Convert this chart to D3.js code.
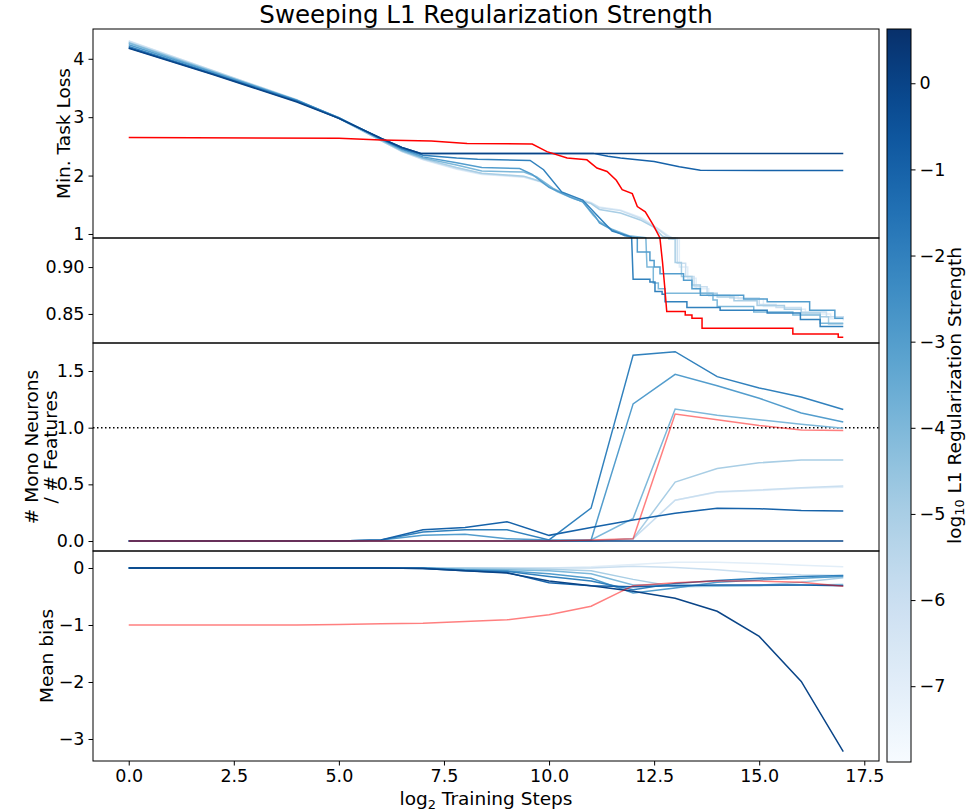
<!DOCTYPE html>
<html lang="en">
<head>
<meta charset="UTF-8">
<title>Sweeping L1 Regularization Strength</title>
<style>
  body { margin: 0; background: #fff; }
  #chart svg { display: block; }
  text { font-family: "DejaVu Sans", sans-serif; fill: #000; }
</style>
</head>
<body>
<div id="chart"></div>
<script src="https://d3js.org/d3.v7.min.js"></script>
<script>
// ---- data ----
const log10L1 = [0, -1, -2, -3, -4, -5, -6, -7];
const steps = [0, 1, 2, 3, 4, 5, 6, 7, 8, 9, 10, 11, 12, 13, 14, 15, 16, 17];

const lossTicks = [1, 2, 3, 4];
const lossZoomTicks = [0.85, 0.90];
const monoTicks = [0.0, 0.5, 1.0, 1.5];
const biasTicks = [-3, -2, -1, 0];
const stepTicks = [0, 2.5, 5, 7.5, 10, 12.5, 15, 17.5];
const cbarTicks = [-7, -6, -5, -4, -3, -2, -1, 0];

// min task loss, [log2 step, loss]
const lossL0 = [[0,4.18],[2,3.73],[4,3.26],[5,2.98],[6,2.64],[6.5,2.48],[6.95,2.38],[17,2.38]];
const lossL1 = [[0,4.19],[2,3.74],[4,3.27],[5,2.98],[6,2.64],[6.5,2.48],[6.95,2.38],[11.05,2.38],[11.4,2.33],[11.7,2.30],[12.1,2.27],[12.5,2.24],[13.1,2.15],[13.6,2.09],[17,2.085]];
const lossL2 = [[0,4.21],[2,3.75],[4,3.28],[5,2.99],[6,2.63],[6.5,2.46],[7,2.35],[7.8,2.30],[8.3,2.28],[9.55,2.26],[9.87,2.10],[10.3,1.72],[10.8,1.58],[11.13,1.33],[11.5,1.05],[11.95,0.95],[12.0,0.887],[12.4,0.884],[12.52,0.874],[12.69,0.871],[12.76,0.863],[13.28,0.857],[14.07,0.854],[15.19,0.851],[15.98,0.844],[16.45,0.8365],[17,0.8365]];
const lossL3 = [[0,4.24],[2,3.77],[4,3.29],[5,2.99],[6,2.62],[6.5,2.45],[7,2.32],[7.8,2.22],[8.4,2.14],[9.3,2.12],[9.6,2.02],[10.0,1.80],[10.5,1.63],[10.8,1.55],[11.1,1.30],[11.2,1.19],[11.5,1.07],[11.8,0.97],[12.1,0.93],[12.1,0.916],[12.4,0.907],[12.5,0.900],[12.64,0.893],[13.2,0.886],[13.4,0.877],[13.6,0.870],[14.63,0.866],[15.19,0.863],[16.2,0.854],[16.8,0.8455],[17,0.8455]];
const lossL4 = [[0,4.27],[2,3.78],[4,3.29],[5,2.98],[6,2.61],[6.5,2.43],[7,2.30],[7.8,2.18],[8.4,2.08],[9.4,2.06],[9.7,1.98],[10.1,1.78],[10.5,1.64],[10.8,1.55],[11.05,1.32],[11.2,1.21],[11.5,1.08],[11.9,0.97],[12.3,0.935],[12.33,0.900],[12.48,0.883],[12.6,0.877],[12.76,0.872],[13.9,0.865],[14.0,0.858],[14.87,0.852],[15.8,0.849],[16.45,0.840],[17,0.840]];
const lossL5 = [[0,4.28],[2,3.79],[4,3.29],[5,2.98],[6,2.60],[6.5,2.42],[7,2.29],[7.8,2.14],[8.4,2.04],[9.4,1.99],[9.8,1.90],[10.2,1.72],[10.6,1.60],[11.0,1.52],[11.2,1.42],[11.7,1.36],[12.17,1.24],[12.48,1.12],[12.7,0.96],[12.85,0.93],[13.0,0.905],[13.15,0.890],[13.4,0.881],[13.6,0.872],[14.0,0.868],[14.4,0.864],[14.95,0.859],[15.6,0.855],[16.0,0.851],[16.45,0.847],[16.65,0.8394],[17,0.8394]];
const lossL6 = [[0,4.30],[2,3.80],[4,3.30],[5,2.98],[6,2.60],[6.5,2.41],[7,2.28],[7.8,2.12],[8.4,2.03],[9.4,1.98],[9.8,1.90],[10.2,1.73],[10.6,1.62],[11.0,1.53],[11.2,1.45],[11.7,1.40],[12.17,1.27],[12.56,1.10],[12.8,0.97],[12.93,0.93],[13.05,0.904],[13.25,0.890],[13.45,0.879],[13.76,0.870],[14.3,0.867],[15.0,0.860],[15.4,0.857],[16.0,0.852],[16.6,0.847],[17,0.844]];
const lossL7 = [[0,4.31],[2,3.80],[4,3.30],[5,2.98],[6,2.60],[6.5,2.41],[7,2.27],[7.8,2.11],[8.4,2.02],[9.4,1.97],[9.8,1.89],[10.2,1.72],[10.6,1.62],[11.0,1.54],[11.2,1.46],[11.7,1.41],[12.2,1.28],[12.6,1.09],[12.84,0.97],[12.95,0.93],[13.1,0.900],[13.3,0.888],[13.5,0.877],[13.8,0.869],[14.5,0.866],[15.1,0.858],[15.6,0.855],[16.1,0.850],[16.7,0.845],[17,0.843]];
const lossNoL1 = [[0,2.65],[5,2.64],[6,2.61],[7.2,2.59],[8.05,2.55],[9.6,2.54],[9.95,2.41],[10.43,2.30],[10.9,2.27],[11.14,2.13],[11.38,2.07],[11.6,1.92],[11.74,1.76],[11.98,1.69],[12.1,1.47],[12.29,1.38],[12.48,1.15],[12.64,0.93],[12.7,0.905],[12.75,0.88],[12.8,0.8525],[13.24,0.849],[13.4,0.8455],[13.64,0.8348],[15.8,0.8287],[16.88,0.8252],[17,0.8252]];
// x from which each loss run is a staircase (in the zoomed band)
const lossStepFrom = [Infinity, Infinity, 12.0, 12.1, 12.33, 12.85, 12.93, 12.95];
const lossNoL1StepFrom = 12.8;

// # mono neurons / # features, one value per log2 step
const monoL0 = [0,0,0,0,0,0,0,0,0,0,0,0,0,0,0,0,0,0];
const monoL1 = [0,0,0,0,0,0,0.01,0.10,0.12,0.17,0.05,0.12,0.185,0.245,0.29,0.285,0.27,0.265];
const monoL2 = [0,0,0,0,0,0,0.01,0.08,0.10,0.10,0.01,0.29,1.64,1.67,1.45,1.35,1.27,1.16];
const monoL3 = [0,0,0,0,0,0,0.01,0.05,0.06,0.02,0.01,0.01,1.21,1.47,1.37,1.26,1.13,1.05];
const monoL4 = [0,0,0,0,0,0,0,0,0,0,0,0.01,0.20,1.165,1.11,1.07,1.03,0.995];
const monoL5 = [0,0,0,0,0,0,0,0,0,0,0,0,0.02,0.52,0.64,0.69,0.715,0.715];
const monoL6 = [0,0,0,0,0,0,0,0,0,0,0,0,0.02,0.36,0.435,0.45,0.47,0.485];
const monoL7 = [0,0,0,0,0,0,0,0,0,0,0,0,0.02,0.36,0.43,0.445,0.465,0.475];
const monoNoL1 = [0,0,0,0,0,0,0,0,0,0,0,0.01,0.02,1.12,1.07,1.02,0.98,0.975];

// mean bias, one value per log2 step
const biasL0 = [0,0,0,0,0,0,0,-0.01,-0.05,-0.09,-0.23,-0.31,-0.41,-0.53,-0.76,-1.20,-1.99,-3.22];
const biasL1 = [0,0,0,0,0,0,0,-0.01,-0.05,-0.08,-0.26,-0.31,-0.33,-0.31,-0.30,-0.30,-0.30,-0.31];
const biasL2 = [0,0,0,0,0,0,0,0,-0.04,-0.06,-0.15,-0.23,-0.38,-0.27,-0.22,-0.18,-0.15,-0.13];
const biasL3 = [0,0,0,0,0,0,0,0,-0.03,-0.05,-0.10,-0.18,-0.44,-0.35,-0.25,-0.21,-0.18,-0.15];
const biasL4 = [0,0,0,0,0,0,0,0,-0.02,-0.03,-0.05,-0.10,-0.30,-0.30,-0.31,-0.31,-0.30,-0.29];
const biasL5 = [0,0,0,0,0,0,0,0,0,-0.01,-0.02,-0.05,-0.20,-0.33,-0.32,-0.30,-0.25,-0.17];
const biasL6 = [0,0,0,0,0,0,0,0,0,0,0,0,0.03,0.01,-0.03,-0.09,-0.12,-0.13];
const biasL7 = [0,0,0,0,0,0,0,0,0,0,0,0.02,0.06,0.10,0.10,0.08,0.05,0.02];
const biasNoL1 = [-1.0,-1.0,-1.0,-1.0,-1.0,-0.99,-0.98,-0.97,-0.94,-0.91,-0.82,-0.67,-0.31,-0.26,-0.23,-0.23,-0.25,-0.32];

const lossRuns = [lossL0, lossL1, lossL2, lossL3, lossL4, lossL5, lossL6, lossL7];
const monoRuns = [monoL0, monoL1, monoL2, monoL3, monoL4, monoL5, monoL6, monoL7];
const biasRuns = [biasL0, biasL1, biasL2, biasL3, biasL4, biasL5, biasL6, biasL7];

// ---- layout ----
const width = 971, height = 812;
const left = 93, right = 879;
const p1 = [29, 238], p2 = [238, 343], p3 = [343, 551], p4 = [551, 761];
const cbar = { x: 887, w: 24, top: 29, bottom: 762 };
const tickFont = 17.5, labelFont = 18.5;

const svg = d3.select("#chart").append("svg")
    .attr("width", width)
    .attr("height", height);
const defs = svg.append("defs");

const x = d3.scaleLinear().domain([-0.85, 17.85]).range([left, right]);
const yLoss = d3.scaleLinear().domain([0.931, 4.51]).range([p1[1], p1[0]]);
const yLossZoom = d3.scaleLinear().domain([0.819, 0.931]).range([p2[1], p2[0]]);
const yMono = d3.scaleLinear().domain([-0.088, 1.747]).range([p3[1], p3[0]]);
const yBias = d3.scaleLinear().domain([-3.386, 0.298]).range([p4[1], p4[0]]);
const cScale = d3.scaleLinear().domain([-7.88, 0.63]).range([cbar.bottom, cbar.top]);
const color = v => d3.interpolateBlues((v - cScale.domain()[0]) / (cScale.domain()[1] - cScale.domain()[0]));
const noL1Color = "#ff0000";
const noL1Faded = "rgba(255,0,0,0.5)";

function addClip(id, band) {
    defs.append("clipPath").attr("id", id)
        .append("rect")
        .attr("x", left).attr("y", band[0])
        .attr("width", right - left).attr("height", band[1] - band[0]);
}
addClip("clip1", p1);
addClip("clip2", p2);

// turn the tail of a run into a staircase, like the running minimum it is
function stairs(points, fromX) {
    const out = [];
    points.forEach((p, i) => {
        if (i > 0 && points[i - 1][0] >= fromX && p[0] > points[i - 1][0]) {
            out.push([p[0], points[i - 1][1]]);
        }
        out.push(p);
    });
    return out;
}

function yAxis(scale, ticks, fmt) {
    const g = svg.append("g")
        .attr("transform", "translate(" + left + ",0)")
        .call(d3.axisLeft(scale).tickValues(ticks).tickFormat(fmt).tickSize(4.5).tickPadding(4));
    g.select(".domain").remove();
    g.attr("font-size", tickFont).attr("font-family", "DejaVu Sans, sans-serif");
    g.selectAll(".tick line").attr("stroke", "#000").attr("stroke-width", 1);
}

// ---- loss panels (broken y axis) ----
const lossLine1 = d3.line().x(d => x(d[0])).y(d => yLoss(d[1]));
const lossLine2 = d3.line().x(d => x(d[0])).y(d => yLossZoom(d[1]));

const g1 = svg.append("g").attr("clip-path", "url(#clip1)");
const g2 = svg.append("g").attr("clip-path", "url(#clip2)");

for (let i = lossRuns.length - 1; i >= 0; i--) {
    const pts = stairs(lossRuns[i], lossStepFrom[i]);
    g1.append("path").attr("d", lossLine1(pts))
        .attr("fill", "none").attr("stroke", color(log10L1[i])).attr("stroke-width", 1.5);
    g2.append("path").attr("d", lossLine2(pts))
        .attr("fill", "none").attr("stroke", color(log10L1[i])).attr("stroke-width", 1.5);
}
const redPts = stairs(lossNoL1, lossNoL1StepFrom);
g1.append("path").attr("d", lossLine1(redPts))
    .attr("fill", "none").attr("stroke", noL1Color).attr("stroke-width", 1.5);
g2.append("path").attr("d", lossLine2(redPts))
    .attr("fill", "none").attr("stroke", noL1Color).attr("stroke-width", 1.5);

// ---- mono neurons panel ----
const monoLine = d3.line().x((d, i) => x(steps[i])).y(d => yMono(d));
svg.append("line")
    .attr("x1", left).attr("x2", right)
    .attr("y1", yMono(1)).attr("y2", yMono(1))
    .attr("stroke", "#000").attr("stroke-width", 1.5)
    .attr("stroke-dasharray", "1.5,2.5");
for (let i = monoRuns.length - 1; i >= 0; i--) {
    svg.append("path").attr("d", monoLine(monoRuns[i]))
        .attr("fill", "none").attr("stroke", color(log10L1[i])).attr("stroke-width", 1.5);
}
svg.append("path").attr("d", monoLine(monoNoL1))
    .attr("fill", "none").attr("stroke", noL1Faded).attr("stroke-width", 1.5);

// ---- mean bias panel ----
const biasLine = d3.line().x((d, i) => x(steps[i])).y(d => yBias(d));
for (let i = biasRuns.length - 1; i >= 0; i--) {
    svg.append("path").attr("d", biasLine(biasRuns[i]))
        .attr("fill", "none").attr("stroke", color(log10L1[i])).attr("stroke-width", 1.5);
}
svg.append("path").attr("d", biasLine(biasNoL1))
    .attr("fill", "none").attr("stroke", noL1Faded).attr("stroke-width", 1.5);

// ---- frames and axes ----
[p1, p2, p3, p4].forEach(b => {
    svg.append("rect")
        .attr("x", left).attr("y", b[0])
        .attr("width", right - left).attr("height", b[1] - b[0])
        .attr("fill", "none").attr("stroke", "#000").attr("stroke-width", 1);
});

yAxis(yLoss, lossTicks, d3.format("d"));
yAxis(yLossZoom, lossZoomTicks, d3.format(".2f"));
yAxis(yMono, monoTicks, d3.format(".1f"));
yAxis(yBias, biasTicks, d3.format("d"));

const xg = svg.append("g")
    .attr("transform", "translate(0," + p4[1] + ")")
    .call(d3.axisBottom(x).tickValues(stepTicks).tickFormat(d3.format(".1f")).tickSize(4.5).tickPadding(4));
xg.select(".domain").remove();
xg.attr("font-size", tickFont).attr("font-family", "DejaVu Sans, sans-serif");
xg.selectAll(".tick line").attr("stroke", "#000");

// ---- labels ----
svg.append("text")
    .attr("x", (left + right) / 2).attr("y", 23)
    .attr("text-anchor", "middle")
    .attr("font-size", 24.5)
    .text("Sweeping L1 Regularization Strength");

const xl = svg.append("text")
    .attr("x", (left + right) / 2).attr("y", 805)
    .attr("text-anchor", "middle")
    .attr("font-size", labelFont);
xl.append("tspan").text("log");
xl.append("tspan").attr("font-size", labelFont * 0.7).attr("dy", 4).text("2");
xl.append("tspan").attr("dy", -4).text(" Training Steps");

function yLabel(lines, baselines, cy) {
    lines.forEach((s, i) => {
        svg.append("text")
            .attr("transform", "translate(" + baselines[i] + "," + cy + ") rotate(-90)")
            .attr("text-anchor", "middle")
            .attr("font-size", labelFont)
            .text(s);
    });
}
yLabel(["Min. Task Loss"], [70], (p1[0] + p1[1]) / 2);
yLabel(["# Mono Neurons", "/ # Features"], [38, 57], (p3[0] + p3[1]) / 2);
yLabel(["Mean bias"], [53], (p4[0] + p4[1]) / 2);

// ---- colorbar ----
const grad = defs.append("linearGradient").attr("id", "blues")
    .attr("x1", 0).attr("y1", 1).attr("x2", 0).attr("y2", 0);
d3.range(0, 1.0001, 0.05).forEach(t => {
    grad.append("stop").attr("offset", t).attr("stop-color", d3.interpolateBlues(t));
});
svg.append("rect")
    .attr("x", cbar.x).attr("y", cbar.top)
    .attr("width", cbar.w).attr("height", cbar.bottom - cbar.top)
    .attr("fill", "url(#blues)")
    .attr("stroke", "#000").attr("stroke-width", 1);

const cg = svg.append("g")
    .attr("transform", "translate(" + (cbar.x + cbar.w) + ",0)")
    .call(d3.axisRight(cScale).tickValues(cbarTicks).tickFormat(d3.format("d")).tickSize(4.5).tickPadding(4));
cg.select(".domain").remove();
cg.attr("font-size", tickFont).attr("font-family", "DejaVu Sans, sans-serif");
cg.selectAll(".tick line").attr("stroke", "#000");

const cl = svg.append("text")
    .attr("transform", "translate(961," + (cbar.top + cbar.bottom) / 2 + ") rotate(-90)")
    .attr("text-anchor", "middle")
    .attr("font-size", labelFont);
cl.append("tspan").text("log");
cl.append("tspan").attr("font-size", labelFont * 0.7).attr("dy", 3).text("10");
cl.append("tspan").attr("dy", -3).text(" L1 Regularization Strength");
</script>
</body>
</html>
